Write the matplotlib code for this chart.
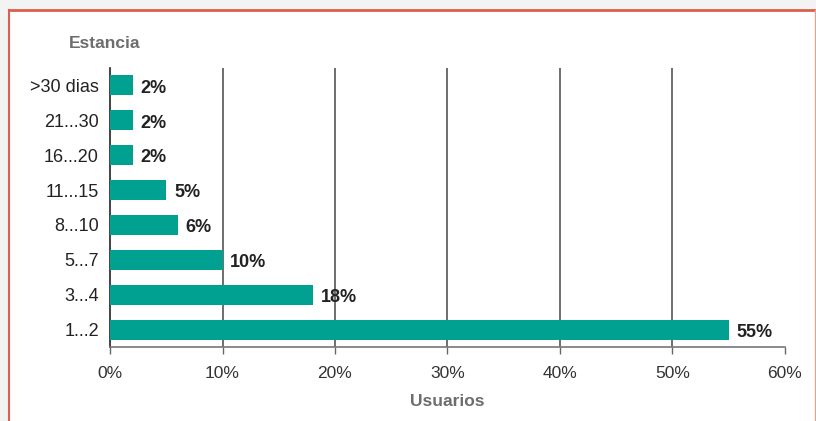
import numpy as np
import matplotlib.pyplot as plt
from matplotlib.lines import Line2D
from matplotlib.patches import Rectangle
from matplotlib.ticker import FuncFormatter

categorias = ['1...2', '3...4', '5...7', '8...10', '11...15', '16...20', '21...30', '>30 dias']
usuarios = [55, 18, 10, 6, 5, 2, 2, 2]
ticks_x = [0, 10, 20, 30, 40, 50, 60]

plt.rcParams['font.family'] = ['Liberation Sans', 'DejaVu Sans']

W, H = 816, 421
fig = plt.figure(figsize=(W/100, H/100), dpi=100, facecolor='#f3f3f3')

# marco blanco con borde rojo
fig.add_artist(Rectangle((9/W, 0), (815-9)/W, 1-10/H, transform=fig.transFigure,
                         facecolor='white', edgecolor='none', zorder=0))
rojo = '#d9604c'
fig.add_artist(Line2D([9/W, 1], [1-10/H, 1-10/H], transform=fig.transFigure, color=rojo, lw=2))
fig.add_artist(Line2D([9/W, 9/W], [0, 1-10/H], transform=fig.transFigure, color=rojo, lw=1.5))
fig.add_artist(Line2D([815/W, 815/W], [0, 1-10/H], transform=fig.transFigure, color='#e8a090', lw=1))

ax = fig.add_axes([110/W, 1-347/H, (785-110)/W, (347-68)/H])
ax.set_facecolor('none')

y = np.arange(len(categorias))
ax.barh(y, usuarios, height=0.57, color='#00a190', zorder=3)
for yi, v in zip(y, usuarios):
    ax.text(v + 0.7, yi - 0.08, f'{v}%', va='center', ha='left', fontsize=13,
            fontweight='bold', color='#222222', zorder=4)

ax.set_xlim(0, 60)
ax.set_ylim(-0.5, len(categorias) - 0.5)
# lineas verticales interiores (sin la de 60%)
ax.vlines(ticks_x[1:-1], -0.5, len(categorias) - 0.5, color='#555555', lw=1.2, zorder=1)

ax.set_xticks(ticks_x)
ax.xaxis.set_major_formatter(FuncFormatter(lambda v, p: f'{v:.0f}%'))
ax.set_yticks(y)
ax.set_yticklabels(categorias)
ax.tick_params(axis='y', length=0, pad=8, labelsize=13, colors='#222222')
ax.tick_params(axis='x', length=5, width=1, color='#666666', pad=9, labelsize=12.5, labelcolor='#333333')

for s in ['top', 'right']:
    ax.spines[s].set_visible(False)
ax.spines['left'].set_color('#222222')
ax.spines['left'].set_linewidth(1.2)
ax.spines['bottom'].set_color('#777777')
ax.spines['bottom'].set_linewidth(1.2)

fig.text(105/W, 1-43/H, 'Estancia', ha='center', va='center', fontsize=12.5,
         fontweight='bold', color='#6d6d6d')
fig.text(447/W, 1-402/H, 'Usuarios', ha='center', va='center', fontsize=12.5,
         fontweight='bold', color='#6d6d6d')

fig.savefig('out.png', dpi=100, facecolor=fig.get_facecolor())
